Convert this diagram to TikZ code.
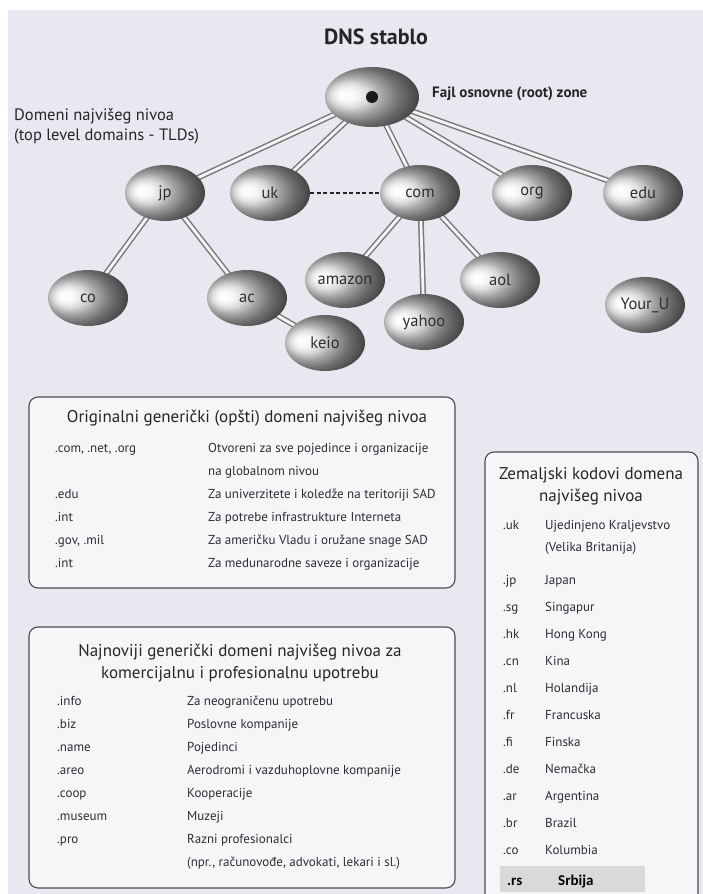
\documentclass[tikz,border=0pt]{standalone}
\usepackage{fontspec}
\setmainfont{PT Sans}
\newfontfamily\calfont{Carlito}
\usetikzlibrary{shapes.geometric}

\definecolor{pagebg}{RGB}{232,232,240}
\definecolor{panelbg}{RGB}{246,246,249}
\definecolor{inkgray}{RGB}{45,45,50}
\definecolor{rowhl}{RGB}{217,217,217}

\pgfdeclarelayer{paper}
\pgfdeclarelayer{wires}
\pgfsetlayers{paper,wires,main}

% light on the left, dark on the right
\pgfdeclareradialshading{eggshade}{\pgfpoint{-15bp}{2bp}}{%
  color(0bp)=(white);
  color(5bp)=(white!97!black);
  color(10bp)=(white!86!black);
  color(16bp)=(white!64!black);
  color(23bp)=(white!43!black);
  color(30bp)=(white!28!black);
  color(40bp)=(white!20!black);
  color(50bp)=(white!18!black)}

\tikzset{
  x=1pt, y=-1pt,
  dnsnode/.style={ellipse, minimum width=80pt, minimum height=56pt, inner sep=0pt,
    shading=eggshade, font=\fontsize{16.5}{18}\selectfont, text=inkgray},
  rootnode/.style={dnsnode, minimum width=94pt, minimum height=60pt},
  link/.style={draw=black!52, double=black!4, double distance=2.8pt, line width=1.5pt},
  panel/.style={draw=black!70, line width=1.1pt, rounded corners=9pt, fill=panelbg},
  cell/.style={anchor=base west, inner sep=0pt, font=\fontsize{13}{15}\selectfont, text=inkgray},
  phead/.style={anchor=center, inner sep=0pt, align=center, font=\fontsize{17}{22}\selectfont, text=black!85},
  caption/.style={anchor=base west, inner sep=0pt, font=\bfseries\fontsize{15}{18}\selectfont, text=black!85},
}

\begin{document}
\begin{tikzpicture}
\useasboundingbox (0,0) rectangle (703,894);
\begin{pgfonlayer}{paper}
  \fill[white] (0,0) rectangle (703,894);
  \fill[pagebg] (8,10) rectangle (703,894);
\end{pgfonlayer}

% title and captions
\node[inner sep=0pt, font=\bfseries\fontsize{22}{24}\selectfont, text=black!85] (title) at (376,37) {DNS stablo};
\node[caption] (rootcap) at (432,97) {Fajl osnovne (root) zone};
\node[anchor=base west, inner sep=0pt, align=left, font=\fontsize{16.5}{20}\selectfont, text=black!85] (tldcap) at (14,140)
  {Domeni najvišeg nivoa\\(top level domains - TLDs)};

% tree nodes
\node[rootnode] (root) at (372,97) {};
\fill[black!90] (root.center) circle (6);
\node[dnsnode] (jp) at (165,193) {jp};
\node[dnsnode] (uk) at (270,193) {uk};
\node[dnsnode] (com) at (420,193) {com};
\node[dnsnode] (org) at (532,193) {org};
\node[dnsnode] (edu) at (643,193) {edu};
\node[dnsnode] (co) at (88,298) {co};
\node[dnsnode] (ac) at (247,298) {ac};
\node[dnsnode] (amazon) at (345,280) {amazon};
\node[dnsnode] (aol) at (500,280) {aol};
\node[dnsnode] (yahoo) at (424,322) {yahoo};
\node[dnsnode] (youru) at (645,305) {Your\_U};
\node[dnsnode] (keio) at (325,343) {keio};

% connectors, behind the nodes
\begin{pgfonlayer}{wires}
  \foreach \t in {jp,uk,com,org,edu} \draw[link] (root.center) -- (\t.center);
  \draw[link] (jp.center) -- (co.center);
  \draw[link] (jp.center) -- (ac.center);
  \draw[link] (ac.center) -- (keio.center);
  \draw[link] (com.center) -- (amazon.center);
  \draw[link] (com.center) -- (aol.center);
  \draw[link] (com.center) -- (yahoo.center);
\end{pgfonlayer}
\draw[black!85, line width=2.2pt, dash pattern=on 4pt off 2.5pt] (uk.east) -- (com.west);

% panel: original generic TLDs
\draw[panel] (29,397) rectangle (455,588);
\node[phead] (h1) at (247,418) {Originalni generički (opšti) domeni najvišeg nivoa};
\node[cell] (a1) at (55,452) {.com, .net, .org};
\node[cell] (b1) at (208,452) {Otvoreni za sve pojedince i organizacije};
\node[cell] (b1x) at (208,475) {na globalnom nivou};
\node[cell] (a2) at (55,498) {.edu};
\node[cell] (b2) at (208,498) {Za univerzitete i koledže na teritoriji SAD};
\node[cell] (a3) at (55,521) {.int};
\node[cell] (b3) at (208,521) {Za potrebe infrastrukture Interneta};
\node[cell] (a4) at (55,544) {.gov, .mil};
\node[cell] (b4) at (208,544) {Za američku Vladu i oružane snage SAD};
\node[cell] (a5) at (55,567) {.int};
\node[cell] (b5) at (208,567) {Za medunarodne saveze i organizacije};

% panel: newest generic TLDs
\draw[panel] (29,627) rectangle (455,888);
\node[phead] (h2) at (240,663) {Najnoviji generički domeni najvišeg nivoa za\\komercijalnu i profesionalnu upotrebu};
\node[cell] (c1) at (57,705) {.info};
\node[cell] (d1) at (187,705) {Za neograničenu upotrebu};
\node[cell] (c2) at (57,728) {.biz};
\node[cell] (d2) at (187,728) {Poslovne kompanije};
\node[cell] (c3) at (57,751) {.name};
\node[cell] (d3) at (187,751) {Pojedinci};
\node[cell] (c4) at (57,774) {.areo};
\node[cell] (d4) at (187,774) {Aerodromi i vazduhoplovne kompanije};
\node[cell] (c5) at (57,797) {.coop};
\node[cell] (d5) at (187,797) {Kooperacije};
\node[cell] (c6) at (57,820) {.museum};
\node[cell] (d6) at (187,820) {Muzeji};
\node[cell] (c7) at (57,843) {.pro};
\node[cell] (d7) at (187,843) {Razni profesionalci};
\node[cell] (d7x) at (187,866) {(npr., računovođe, advokati, lekari i sl.)};

% panel: country code TLDs
\draw[panel] (485,452) rectangle (698,910);
\node[phead] (h3) at (591,486) {Zemaljski kodovi domena\\najvišeg nivoa};
\node[cell] (e1) at (503,529) {.uk};
\node[cell] (f1) at (545,529) {Ujedinjeno Kraljevstvo};
\node[cell] (f1x) at (545,551) {(Velika Britanija)};
\node[cell] (e2) at (503,584) {.jp};
\node[cell] (f2) at (545,584) {Japan};
\node[cell] (e3) at (503,611) {.sg};
\node[cell] (f3) at (545,611) {Singapur};
\node[cell] (e4) at (503,638) {.hk};
\node[cell] (f4) at (545,638) {Hong Kong};
\node[cell] (e5) at (503,665) {.cn};
\node[cell] (f5) at (545,665) {Kina};
\node[cell] (e6) at (503,692) {.nl};
\node[cell] (f6) at (545,692) {Holandija};
\node[cell] (e7) at (503,719) {.fr};
\node[cell] (f7) at (545,719) {Francuska};
\node[cell] (e8) at (503,746) {.fi};
\node[cell] (f8) at (545,746) {Finska};
\node[cell] (e9) at (503,773) {.de};
\node[cell] (f9) at (545,773) {Nemačka};
\node[cell] (e10) at (503,800) {.ar};
\node[cell] (f10) at (545,800) {Argentina};
\node[cell] (e11) at (503,827) {.br};
\node[cell] (f11) at (545,827) {Brazil};
\node[cell] (e12) at (503,854) {.co};
\node[cell] (f12) at (545,854) {Kolumbia};
\fill[rowhl] (500,866) rectangle (645,892);
\node[cell, font=\calfont\bfseries\fontsize{15}{16}\selectfont, text=black] (e13) at (507,885) {.rs};
\node[cell, font=\calfont\bfseries\fontsize{15}{16}\selectfont, text=black] (f13) at (558,885) {Srbija};
\end{tikzpicture}
\end{document}
